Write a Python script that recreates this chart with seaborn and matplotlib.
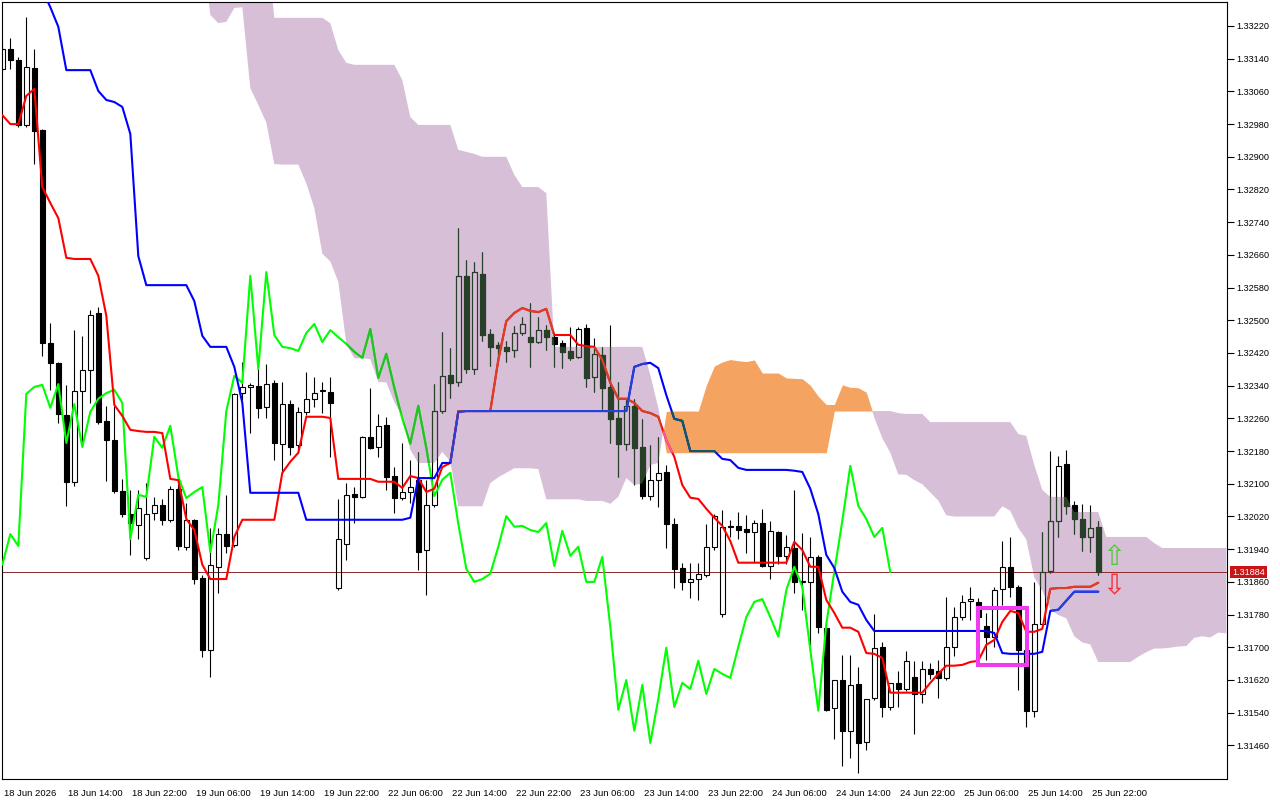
import numpy as np
import matplotlib
matplotlib.use("Agg")
import matplotlib.pyplot as plt
import seaborn as sns
from matplotlib.path import Path
from matplotlib.colors import to_rgb
from matplotlib.patches import Rectangle
from matplotlib.ticker import FormatStrFormatter
import matplotlib.transforms as mtransforms

# H1 bars, 18 Jun 06:00 .. 25 Jun 23:00
open_ = [
    1.33115, 1.33164, 1.33137, 1.32978, 1.33117, 1.32966, 1.32445, 1.32396, 1.32269, 1.32105,
    1.32327, 1.32379, 1.32518, 1.32254, 1.32207, 1.32083, 1.32026, 1.31999, 1.31919, 1.32029,
    1.32048, 1.32012, 1.32088, 1.31946, 1.32012, 1.31870, 1.31694, 1.31897, 1.31977, 1.31950,
    1.32322, 1.32337, 1.32339, 1.32288, 1.32347, 1.32198, 1.32295, 1.32195, 1.32276, 1.32308,
    1.32327, 1.32325, 1.31845, 1.31953, 1.32075, 1.32068, 1.32215, 1.32190, 1.32244, 1.32119,
    1.32065, 1.32080, 1.32110, 1.31938, 1.32048, 1.32278, 1.32366, 1.32349, 1.32609, 1.32381,
    1.32613, 1.32467, 1.32440, 1.32435, 1.32428, 1.32469, 1.32459, 1.32447, 1.32476, 1.32459,
    1.32445, 1.32425, 1.32410, 1.32481, 1.32361, 1.32415, 1.32337, 1.32261, 1.32198, 1.32291,
    1.32190, 1.32070, 1.32110, 1.32129, 1.32002, 1.31894, 1.31860, 1.31867, 1.31877, 1.31946,
    1.31782, 1.31995, 1.31997, 1.31990, 1.31982, 1.32004, 1.31899, 1.31982, 1.31924, 1.31943,
    1.31862, 1.31860, 1.31921, 1.31748, 1.31552, 1.31620, 1.31496, 1.31611, 1.31469, 1.31576,
    1.31701, 1.31554, 1.31613, 1.31598, 1.31628, 1.31586, 1.31647, 1.31642, 1.31625, 1.31701,
    1.31774, 1.31814, 1.31811, 1.31752, 1.31726, 1.31843, 1.31897, 1.31848, 1.31694, 1.31545,
    1.31757, 1.31887, 1.32009, 1.32149, 1.32048, 1.32014, 1.31970, 1.31995]
high = [
    1.33174, 1.33191, 1.33144, 1.33243, 1.33164, 1.32968, 1.32494, 1.32398, 1.32342, 1.32476,
    1.32462, 1.32525, 1.32533, 1.32291, 1.32291, 1.32112, 1.32085, 1.32085, 1.32102, 1.32068,
    1.32063, 1.32095, 1.32102, 1.32053, 1.32014, 1.31877, 1.31992, 1.31992, 1.32073, 1.32322,
    1.32398, 1.32347, 1.32384, 1.32393, 1.32354, 1.32349, 1.32305, 1.32288, 1.32374, 1.32361,
    1.32349, 1.32361, 1.32063, 1.32102, 1.32092, 1.32217, 1.32335, 1.32271, 1.32264, 1.32141,
    1.32200, 1.32158, 1.32178, 1.32110, 1.32344, 1.32472, 1.32432, 1.32726, 1.32648, 1.32643,
    1.32667, 1.32479, 1.32447, 1.32450, 1.32486, 1.32508, 1.32543, 1.32508, 1.32489, 1.32467,
    1.32452, 1.32484, 1.32484, 1.32491, 1.32457, 1.32435, 1.32489, 1.32349, 1.32305, 1.32308,
    1.32259, 1.32195, 1.32215, 1.32146, 1.32017, 1.31907, 1.31907, 1.31907, 1.32002, 1.32026,
    1.32036, 1.32012, 1.32031, 1.32024, 1.32012, 1.32039, 1.32009, 1.31985, 1.31975, 1.32085,
    1.31980, 1.31970, 1.31926, 1.31750, 1.31620, 1.31682, 1.31682, 1.31652, 1.31574, 1.31782,
    1.31713, 1.31613, 1.31642, 1.31691, 1.31667, 1.31667, 1.31662, 1.31669, 1.31823, 1.31799,
    1.31828, 1.31848, 1.31821, 1.31784, 1.31848, 1.31960, 1.31970, 1.31853, 1.31699, 1.31860,
    1.31982, 1.32181, 1.32168, 1.32183, 1.32058, 1.32051, 1.32048, 1.32009]
low = [
    1.33108, 1.33115, 1.32973, 1.32973, 1.32883, 1.32413, 1.32330, 1.32249, 1.32046, 1.32095,
    1.32195, 1.32298, 1.32247, 1.32107, 1.32078, 1.32019, 1.31926, 1.31965, 1.31914, 1.32012,
    1.31999, 1.32007, 1.31938, 1.31938, 1.31855, 1.31677, 1.31628, 1.31833, 1.31931, 1.31946,
    1.32305, 1.32225, 1.32261, 1.32261, 1.32158, 1.32129, 1.32171, 1.32176, 1.32269, 1.32288,
    1.32273, 1.32166, 1.31840, 1.31914, 1.32004, 1.32065, 1.32185, 1.32166, 1.32085, 1.32029,
    1.32061, 1.32053, 1.31889, 1.31828, 1.32044, 1.32273, 1.32310, 1.32339, 1.32371, 1.32369,
    1.32450, 1.32388, 1.32398, 1.32398, 1.32410, 1.32464, 1.32386, 1.32445, 1.32428, 1.32386,
    1.32384, 1.32403, 1.32408, 1.32337, 1.32325, 1.32283, 1.32200, 1.32117, 1.32183, 1.32097,
    1.32063, 1.32061, 1.32044, 1.31943, 1.31845, 1.31840, 1.31821, 1.31816, 1.31872, 1.31938,
    1.31774, 1.31970, 1.31965, 1.31931, 1.31907, 1.31897, 1.31867, 1.31904, 1.31904, 1.31833,
    1.31792, 1.31706, 1.31735, 1.31545, 1.31476, 1.31410, 1.31430, 1.31393, 1.31449, 1.31571,
    1.31530, 1.31547, 1.31554, 1.31593, 1.31488, 1.31564, 1.31623, 1.31576, 1.31620, 1.31679,
    1.31767, 1.31767, 1.31755, 1.31669, 1.31701, 1.31804, 1.31823, 1.31596, 1.31505, 1.31530,
    1.31755, 1.31882, 1.31970, 1.32026, 1.31977, 1.31936, 1.31933, 1.31877]
close = [
    1.33164, 1.33137, 1.32978, 1.33120, 1.32963, 1.32445, 1.32396, 1.32271, 1.32105, 1.32327,
    1.32379, 1.32513, 1.32251, 1.32207, 1.32083, 1.32026, 1.32004, 1.32041, 1.32026, 1.32048,
    1.32012, 1.32088, 1.31948, 1.32012, 1.31867, 1.31694, 1.31902, 1.31977, 1.31948, 1.32320,
    1.32337, 1.32342, 1.32286, 1.32344, 1.32200, 1.32295, 1.32190, 1.32276, 1.32308, 1.32322,
    1.32330, 1.32298, 1.31965, 1.32073, 1.32068, 1.32215, 1.32188, 1.32242, 1.32117, 1.32065,
    1.32080, 1.32092, 1.31933, 1.32048, 1.32278, 1.32364, 1.32347, 1.32609, 1.32381, 1.32618,
    1.32464, 1.32435, 1.32432, 1.32425, 1.32469, 1.32491, 1.32447, 1.32476, 1.32459, 1.32442,
    1.32423, 1.32408, 1.32479, 1.32359, 1.32418, 1.32335, 1.32259, 1.32198, 1.32291, 1.32188,
    1.32070, 1.32110, 1.32127, 1.32002, 1.31892, 1.31860, 1.31867, 1.31880, 1.31946, 1.32021,
    1.31995, 1.31997, 1.31987, 1.31982, 1.32004, 1.31899, 1.31985, 1.31924, 1.31946, 1.31860,
    1.31860, 1.31921, 1.31750, 1.31547, 1.31620, 1.31496, 1.31608, 1.31466, 1.31574, 1.31699,
    1.31554, 1.31613, 1.31598, 1.31667, 1.31586, 1.31647, 1.31635, 1.31625, 1.31701, 1.31774,
    1.31811, 1.31818, 1.31774, 1.31726, 1.31840, 1.31897, 1.31848, 1.31694, 1.31545, 1.31757,
    1.31885, 1.32009, 1.32144, 1.32046, 1.32014, 1.31970, 1.31992, 1.31884]

tenkan = [
    1.33002, 1.32980, 1.32980, 1.33049, 1.33066, 1.32826, 1.32787, 1.32750, 1.32653, 1.32650,
    1.32650, 1.32650, 1.32609, 1.32511, 1.32293, 1.32266, 1.32232, 1.32229, 1.32227, 1.32227,
    1.32224, 1.32112, 1.32109, 1.32014, 1.31987, 1.31902, 1.31867, 1.31867, 1.31867, 1.31970,
    1.32012, 1.32012, 1.32012, 1.32012, 1.32012, 1.32127, 1.32154, 1.32176, 1.32264, 1.32264,
    1.32264, 1.32261, 1.32112, 1.32112, 1.32112, 1.32112, 1.32112, 1.32105, 1.32105, 1.32105,
    1.32090, 1.32119, 1.32114, 1.32080, 1.32088, 1.32141, 1.32151, 1.32278, 1.32278, 1.32278,
    1.32278, 1.32278, 1.32403, 1.32498, 1.32518, 1.32530, 1.32523, 1.32520, 1.32528, 1.32464,
    1.32464, 1.32464, 1.32440, 1.32437, 1.32435, 1.32403, 1.32347, 1.32308, 1.32308, 1.32298,
    1.32278, 1.32273, 1.32264, 1.32207, 1.32166, 1.32097, 1.32066, 1.32063, 1.32039, 1.32017,
    1.31997, 1.31960, 1.31907, 1.31907, 1.31907, 1.31907, 1.31907, 1.31907, 1.31907, 1.31958,
    1.31938, 1.31897, 1.31897, 1.31816, 1.31784, 1.31748, 1.31748, 1.31738, 1.31686, 1.31684,
    1.31674, 1.31589, 1.31589, 1.31589, 1.31589, 1.31589, 1.31613, 1.31635, 1.31655, 1.31655,
    1.31657, 1.31664, 1.31667, 1.31706, 1.31718, 1.31762, 1.31789, 1.31784, 1.31738, 1.31738,
    1.31745, 1.31843, 1.31845, 1.31845, 1.31848, 1.31848, 1.31848, 1.31858]
kijun = [
    1.33479, 1.33479, 1.33479, 1.33479, 1.33479, 1.33308, 1.33266, 1.33218, 1.33112, 1.33112,
    1.33112, 1.33112, 1.33061, 1.33039, 1.33034, 1.33022, 1.32956, 1.32657, 1.32586, 1.32586,
    1.32586, 1.32586, 1.32586, 1.32586, 1.32547, 1.32462, 1.32435, 1.32435, 1.32435, 1.32386,
    1.32298, 1.32078, 1.32078, 1.32078, 1.32078, 1.32078, 1.32078, 1.32078, 1.32012, 1.32012,
    1.32012, 1.32012, 1.32012, 1.32012, 1.32012, 1.32012, 1.32012, 1.32012, 1.32012, 1.32012,
    1.32012, 1.32017, 1.32114, 1.32114, 1.32114, 1.32151, 1.32151, 1.32276, 1.32278, 1.32278,
    1.32278, 1.32278, 1.32278, 1.32278, 1.32278, 1.32278, 1.32278, 1.32278, 1.32278, 1.32278,
    1.32278, 1.32278, 1.32278, 1.32278, 1.32278, 1.32278, 1.32278, 1.32278, 1.32278, 1.32386,
    1.32393, 1.32396, 1.32383, 1.32317, 1.32259, 1.32254, 1.32180, 1.32180, 1.32180, 1.32180,
    1.32161, 1.32158, 1.32139, 1.32134, 1.32134, 1.32134, 1.32134, 1.32134, 1.32134, 1.32132,
    1.32129, 1.32088, 1.32026, 1.31926, 1.31894, 1.31836, 1.31811, 1.31804, 1.31767, 1.31740,
    1.31740, 1.31740, 1.31740, 1.31740, 1.31740, 1.31740, 1.31740, 1.31740, 1.31740, 1.31740,
    1.31740, 1.31740, 1.31740, 1.31740, 1.31735, 1.31686, 1.31684, 1.31684, 1.31684, 1.31684,
    1.31689, 1.31789, 1.31792, 1.31814, 1.31836, 1.31836, 1.31836, 1.31836]

# senkou spans as drawn (already shifted 26 bars forward), bar 0 .. 153
span_a = [1.33410] * 26 + [
    1.33247, 1.33227, 1.33230, 1.33264, 1.33266, 1.33068, 1.33027, 1.32984, 1.32882, 1.32881,
    1.32881, 1.32881, 1.32835, 1.32775, 1.32663, 1.32644, 1.32594, 1.32443, 1.32407, 1.32407,
    1.32405, 1.32349, 1.32348, 1.32300, 1.32267, 1.32183, 1.32151, 1.32151, 1.32151, 1.32178,
    1.32155, 1.32045, 1.32045, 1.32045, 1.32045, 1.32102, 1.32116, 1.32127, 1.32138, 1.32138,
    1.32138, 1.32136, 1.32062, 1.32062, 1.32062, 1.32062, 1.32062, 1.32058, 1.32058, 1.32058,
    1.32051, 1.32068, 1.32114, 1.32097, 1.32101, 1.32146, 1.32151, 1.32277, 1.32278, 1.32278,
    1.32278, 1.32278, 1.32341, 1.32388, 1.32398, 1.32404, 1.32401, 1.32399, 1.32403, 1.32371,
    1.32371, 1.32371, 1.32359, 1.32358, 1.32357, 1.32341, 1.32314, 1.32294, 1.32294, 1.32342,
    1.32336, 1.32335, 1.32324, 1.32262, 1.32212, 1.32176, 1.32123, 1.32122, 1.32109, 1.32099,
    1.32079, 1.32059, 1.32023, 1.32020, 1.32020, 1.32020, 1.32020, 1.32020, 1.32020, 1.32045,
    1.32034, 1.31992, 1.31964, 1.31871, 1.31839, 1.31792, 1.31779, 1.31771, 1.31727, 1.31712,
    1.31707, 1.31664, 1.31664, 1.31664, 1.31664, 1.31664, 1.31677, 1.31688, 1.31697, 1.31697,
    1.31699, 1.31702, 1.31703, 1.31723, 1.31727, 1.31724, 1.31736, 1.31734]
span_b = [1.33430] * 34 + [1.33240] * 7 + [1.33227, 1.33161, 1.33130] + [1.33125] * 6 + \
    [1.33088, 1.32997] + [1.32978] * 5 + [1.32917, 1.32912, 1.32907] + [1.32900] * 4 + \
    [1.32856] + [1.32826] * 3 + [1.32811] + [1.32435] * 12 + [1.32366, 1.32286] + \
    [1.32176] * 21 + [1.32278] * 8 + [1.32273] + [1.32271] * 3 + [1.32251] * 11 + \
    [1.32222, 1.32217, 1.32146, 1.32085] + [1.32068] * 3 + [1.32031] * 4 + \
    [1.31970] * 6 + [1.31955] + [1.31943] * 9

tick_bars = [0, 8, 16, 24, 32, 40, 48, 56, 64, 72, 80, 88, 96, 104, 112, 120, 128, 136]
tick_labels = ['18 Jun 2026', '18 Jun 14:00', '18 Jun 22:00', '19 Jun 06:00', '19 Jun 14:00',
               '19 Jun 22:00', '22 Jun 06:00', '22 Jun 14:00', '22 Jun 22:00', '23 Jun 06:00',
               '23 Jun 14:00', '23 Jun 22:00', '24 Jun 06:00', '24 Jun 14:00', '24 Jun 22:00',
               '25 Jun 06:00', '25 Jun 14:00', '25 Jun 22:00']
price_ticks = [1.31460, 1.31540, 1.31620, 1.31700, 1.31780, 1.31860, 1.31940, 1.32020,
               1.32100, 1.32180, 1.32260, 1.32340, 1.32420, 1.32500, 1.32580, 1.32660,
               1.32740, 1.32820, 1.32900, 1.32980, 1.33060, 1.33140, 1.33220]
shift = 26

sns.set_style("white")
plt.rcParams['font.family'] = ['Liberation Sans', 'DejaVu Sans']

o = np.array(open_); h = np.array(high); l = np.array(low); c = np.array(close)
bars = np.arange(len(c))
cloud_x = np.arange(len(span_a))
a = np.array(span_a); b = np.array(span_b)
chikou = c[shift:]
bull = c >= o
body_top = np.maximum(o, c)
body_bot = np.minimum(o, c)

fig = plt.figure(figsize=(12.8, 8), dpi=100)
ax = fig.add_axes([2 / 1280, 21 / 800, 1225 / 1280, 777 / 800])

KUMO_UP = '#F4A460'
KUMO_DN = '#D8BFD8'
up = ax.fill_between(cloud_x, a, b, where=a >= b, interpolate=True, color=KUMO_UP, lw=0, zorder=1)
dn = ax.fill_between(cloud_x, a, b, where=b >= a, interpolate=True, color=KUMO_DN, lw=0, zorder=1)

ax.axhline(c[-1], color='#8c2a2a', lw=0.7, zorder=1.5)


def xor_colour(col, kumo):
    # MT5 paints the kumo in xor mode, so marks inside it change colour
    if kumo is None:
        return col
    p = np.round(np.array(to_rgb(col)) * 255).astype(int)
    k = 255 - np.round(np.array(to_rgb(kumo)) * 255).astype(int)
    return tuple((p ^ k) / 255)


def draw_layer(kumo=None, clip=None, z=2):
    col = lambda x: xor_colour(x, kumo)
    before = set(ax.get_children())
    ax.vlines(bars, body_top, h, colors=[col('black')], lw=0.8, zorder=z)
    ax.vlines(bars, l, body_bot, colors=[col('black')], lw=0.8, zorder=z)
    ax.bar(bars[bull], (body_top - body_bot)[bull], bottom=body_bot[bull], width=0.62,
           facecolor='none', edgecolor=col('black'), linewidth=0.8, zorder=z)
    ax.bar(bars[~bull], (body_top - body_bot)[~bull], bottom=body_bot[~bull], width=0.62,
           facecolor=col('black'), edgecolor=col('black'), linewidth=0.8, zorder=z)
    sns.lineplot(x=bars[:len(chikou)], y=chikou, color=col('#00ff00'), lw=1.5, ax=ax, zorder=z + 1)
    sns.lineplot(x=bars, y=tenkan, color=col('#ff0000'), lw=1.5, ax=ax, zorder=z + 1)
    sns.lineplot(x=bars, y=kijun, color=col('#0000ff'), lw=1.5, ax=ax, zorder=z + 1)
    if clip is not None:
        for art in ax.get_children():
            if art not in before:
                art.set_clip_path(clip, ax.transData)


draw_layer()
for coll, kumo in [(dn, KUMO_DN), (up, KUMO_UP)]:
    paths = coll.get_paths()
    if paths:
        draw_layer(kumo, Path.make_compound_path(*paths), z=4)

# marked area and arrows
ax.add_patch(Rectangle((121.96, 1.31657), 6.14, 0.00139, fill=False, ec='#f03cf0', lw=2.9, zorder=7))
ax.text(139.0, 1.31921, '\u21e7', color='#55c83c', fontsize=20, ha='center', va='center',
        family='DejaVu Sans', zorder=7)
ax.text(138.9, 1.31850, '\u21e9', color='#ff2a2a', fontsize=20, ha='center', va='center',
        family='DejaVu Sans', zorder=7)

ax.set_xlim(-0.04, 153.09)
ax.set_ylim(1.313778, 1.332787)
ax.set_xlabel('')
ax.set_ylabel('')

ax.yaxis.tick_right()
ax.set_yticks(price_ticks)
ax.yaxis.set_major_formatter(FormatStrFormatter('%.5f'))
ax.tick_params(axis='y', direction='out', length=5, width=0.8, pad=1.5, labelsize=6.6, colors='black')
ax.set_xticks(tick_bars)
ax.set_xticklabels(tick_labels, ha='left')
ax.tick_params(axis='x', direction='out', length=5, width=0.8, pad=2, labelsize=6.8, colors='black')
nudge = mtransforms.ScaledTranslation(0.02, 0, fig.dpi_scale_trans)
for lab in ax.get_xticklabels():
    lab.set_transform(lab.get_transform() + nudge)
for s in ax.spines.values():
    s.set_color('black')
    s.set_linewidth(0.8)

trans = mtransforms.blended_transform_factory(ax.transAxes, ax.transData)
ax.annotate(f'{c[-1]:.5f}', xy=(1, c[-1]), xycoords=trans, xytext=(5, 0), textcoords='offset pixels',
            ha='left', va='center', color='white', fontsize=6.6,
            bbox=dict(boxstyle='square,pad=0.2', fc='#c81414', ec='none'), annotation_clip=False)

fig.savefig('out.png', dpi=100)
